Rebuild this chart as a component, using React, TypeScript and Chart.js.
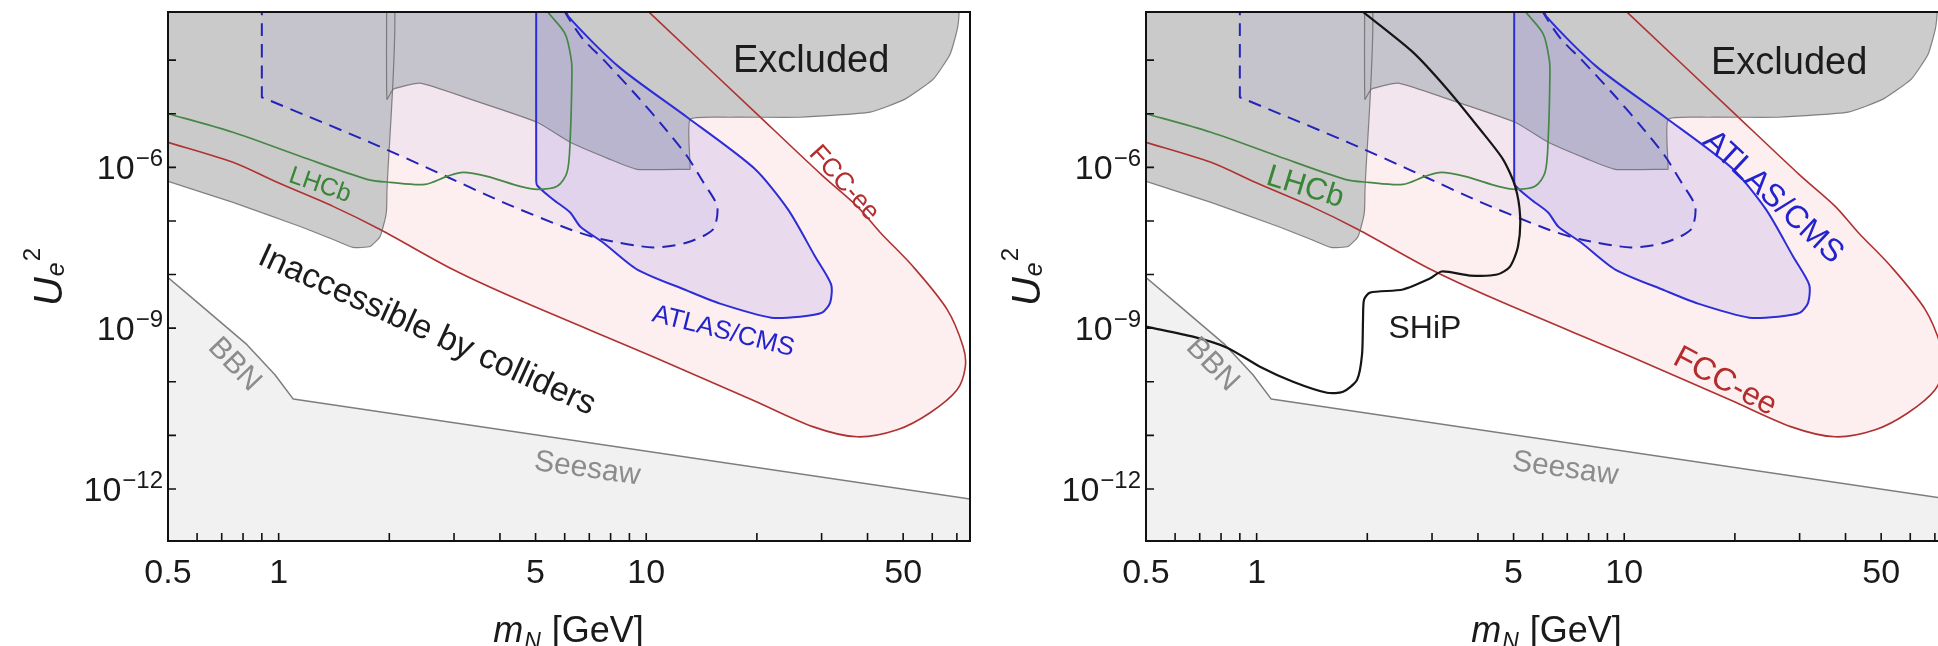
import React, { useEffect, useRef } from 'react';
import { Chart, registerables } from 'chart.js';

Chart.register(...registerables);

// ---------- axis ranges ----------
const X_MIN = 0.5;
const X_MAX = 76;
const Y_MIN = 1.07e-13;
const Y_MAX = 7.9e-4;

// ---------- tick values ----------
const xTickValues = [0.5, 1, 5, 10, 50];
const xTickLabels = ['0.5', '1', '5', '10', '50'];
const xMinorTicks = [0.6, 0.7, 0.8, 0.9, 2, 3, 4, 6, 7, 8, 9, 20, 30, 40, 60, 70];
const yTickExponents = [-12, -11, -10, -9, -8, -7, -6, -5, -4];
const yLabelExponents = [-12, -9, -6];

// ---------- curves (mass in GeV, U_e^2) ----------
// Seesaw / BBN lower region boundary
const seesawMass = [0.45, 0.5, 0.611, 0.82, 0.977, 1.096, 80, 80, 0.45, 0.45];
const seesawU2 = [1.6e-8, 8.8e-9, 2.75e-9, 4.92e-10, 1.35e-10, 4.75e-11, 6.2e-13, 1e-14, 1e-14, 1.6e-8];

// FCC-ee sensitivity region (closed)
const fccMass = [0.45, 0.45, 0.5, 0.751, 0.99, 1.406, 1.888, 2.98, 4.48, 10.44, 19.66, 28.5, 37.5, 48.2, 59.2, 70.1, 73.8, 72.8, 65.9, 53.2, 43.3, 37.5, 30.1, 19.66, 10.21, 6.9, 0.45];
const fccU2 = [1e-2, 3.6e-6, 2.93e-6, 1.24e-6, 5.25e-7, 1.87e-7, 6.93e-8, 1.24e-8, 3.41e-9, 2.93e-10, 4.41e-11, 1.44e-11, 9.4e-12, 1.27e-11, 2.64e-11, 7.08e-11, 1.9e-10, 4.51e-10, 2.22e-9, 1.41e-8, 6.1e-8, 1.87e-7, 7.08e-7, 1.11e-5, 7.7e-4, 1e-2, 1e-2];

// ATLAS/CMS solid region (closed)
const atlasMass = [5.02, 5.02, 5.05, 5.58, 6.21, 6.61, 7.63, 9.45, 12.92, 15.89, 21.9, 26.2, 30.1, 31.65, 31.85, 28.8, 24.3, 19.66, 12.92, 8.44, 6.13, 5.95, 5.02];
const atlasU2 = [1.2e-3, 7e-7, 4.6e-7, 2.52e-7, 1.44e-7, 7.9e-8, 3.96e-8, 1.24e-8, 5.02e-9, 2.87e-9, 1.57e-9, 1.64e-9, 1.95e-9, 3.0e-9, 6.5e-9, 2.17e-8, 1.64e-7, 9.58e-7, 8.6e-6, 7.4e-5, 6.6e-4, 1.2e-3, 1.2e-3];

// ATLAS/CMS displaced (dashed) region (closed; corner vertex repeated for a sharp corner)
const dispMass = [0.9, 0.9, 0.9, 1.773, 2.7, 4.08, 6.21, 7.63, 10.44, 12.92, 15.2, 15.6, 14.3, 12.92, 11.12, 9.45, 7.63, 6.73, 6.02, 5.9, 0.9];
const dispU2 = [1.2e-3, 2.03e-5, 2.03e-5, 2.93e-6, 8.07e-7, 2.22e-7, 6.93e-8, 4.51e-8, 3.2e-8, 3.96e-8, 6.93e-8, 1.87e-7, 5.25e-7, 1.61e-6, 5.83e-6, 2.12e-5, 1.04e-4, 2.47e-4, 7.7e-4, 1.2e-3, 1.2e-3];

// LHCb contour (open line)
const lhcbMass = [0.45, 0.5, 0.751, 1.144, 1.74, 2.01, 2.5, 2.87, 3.18, 3.69, 4.54, 5.05, 5.72, 6.09, 6.21, 6.28, 6.25, 6.02, 5.41, 5.08];
const lhcbU2 = [1.21e-5, 1.0e-5, 4.51e-6, 1.61e-6, 5.97e-7, 5.25e-7, 4.8e-7, 6.79e-7, 8.07e-7, 6.79e-7, 4.42e-7, 3.88e-7, 4.42e-7, 8.07e-7, 3.33e-6, 5.97e-5, 1.04e-4, 3.06e-4, 7.7e-4, 1.38e-3];

// Excluded region, left block (closed)
const exclLeftMass = [0.45, 0.5, 0.751, 1.144, 1.406, 1.594, 1.773, 1.888, 1.96, 1.97, 1.97, 0.45, 0.45];
const exclLeftU2 = [6.9e-7, 5.47e-7, 2.22e-7, 7.88e-8, 4.51e-8, 3.2e-8, 3.34e-8, 5.13e-8, 1.32e-7, 3e-7, 1e-2, 1e-2, 6.9e-7];

// Excluded region, middle/right block (closed)
const exclMidMass = [1.97, 1.97, 2.05, 2.43, 3.32, 5.05, 6.21, 7.97, 9.45, 12.92, 13.16, 13.16, 16.9, 26.2, 40.7, 50.6, 60.4, 67.1, 70.2, 71.0, 71.5, 1.97];
const exclMidU2 = [1e-2, 1.87e-5, 2.87e-5, 3.72e-5, 1.87e-5, 6.93e-6, 2.93e-6, 1.41e-6, 9.18e-7, 9.18e-7, 9.18e-7, 7.88e-6, 8.6e-6, 8.6e-6, 1.07e-5, 1.87e-5, 4.42e-5, 1.29e-4, 3.79e-4, 7.9e-4, 1e-2, 1e-2];

// SHiP contour (right panel only)
const shipMass = [0.45, 0.5, 0.671, 0.831, 1.021, 1.256, 1.554, 1.718, 1.876, 1.935, 1.947, 1.96, 2.035, 2.5, 2.96, 3.19, 3.81, 4.51, 4.89, 5.14, 5.21, 5.05, 4.68, 4.05, 3.3, 2.66, 1.947, 1.62];
const shipU2 = [1.27e-9, 1.07e-9, 6.93e-10, 4.32e-10, 1.91e-10, 1.0e-10, 6.23e-11, 6.5e-11, 1.09e-10, 3.2e-10, 1.44e-9, 3.41e-9, 4.61e-9, 5.25e-9, 8.4e-9, 1.14e-8, 9.58e-9, 1.0e-8, 1.41e-8, 3.34e-8, 1.21e-7, 4.42e-7, 1.41e-6, 5.13e-6, 2.87e-5, 1.41e-4, 7.9e-4, 2.1e-3];

// ---------- annotations ----------
type Label = { text: string; m: number; u: number; angle: number; size: number; color: string };

const BLACK = '#1c1c1c';
const GREEN = 'rgb(55,135,55)';
const BLUE = 'rgb(35,35,205)';
const RED = 'rgb(180,45,45)';
const GRAY = 'rgb(140,140,140)';

const leftLabels: Label[] = [
  { text: 'Excluded', m: 28.1, u: 9.6e-5, angle: 0, size: 38, color: BLACK },
  { text: 'Inaccessible by colliders', m: 2.53, u: 8.97e-10, angle: 24.5, size: 34, color: BLACK },
  { text: 'LHCb', m: 1.296, u: 4.61e-7, angle: 19, size: 25, color: GREEN },
  { text: 'ATLAS/CMS', m: 16.2, u: 8.6e-10, angle: 14, size: 26, color: BLUE },
  { text: 'FCC-ee', m: 34.5, u: 5.03e-7, angle: 48, size: 26, color: RED },
  { text: 'BBN', m: 0.758, u: 2.08e-10, angle: 46, size: 30, color: GRAY },
  { text: 'Seesaw', m: 6.91, u: 2.37e-12, angle: 8, size: 30, color: GRAY },
];

const rightLabels: Label[] = [
  { text: 'Excluded', m: 28.1, u: 8.8e-5, angle: 0, size: 38, color: BLACK },
  { text: 'LHCb', m: 1.354, u: 4.22e-7, angle: 17, size: 31, color: GREEN },
  { text: 'ATLAS/CMS', m: 25.4, u: 2.75e-7, angle: 43, size: 32, color: BLUE },
  { text: 'FCC-ee', m: 18.8, u: 1.0e-10, angle: 28, size: 32, color: RED },
  { text: 'SHiP', m: 2.87, u: 9.4e-10, angle: 0, size: 32, color: BLACK },
  { text: 'BBN', m: 0.758, u: 2.08e-10, angle: 46, size: 30, color: GRAY },
  { text: 'Seesaw', m: 6.91, u: 2.37e-12, angle: 8, size: 30, color: GRAY },
];

const FONT = '"Liberation Sans", Arial, Helvetica, sans-serif';

function pts(m: number[], u: number[]) {
  return m.map((x, i) => ({ x, y: u[i] }));
}

function buildDatasets(withShip: boolean) {
  const base = { pointRadius: 0, borderJoinStyle: 'round' as const };
  const grayRegion = {
    borderColor: 'rgba(105,105,105,0.8)',
    borderWidth: 1.2,
    fill: 'shape',
    backgroundColor: 'rgba(198,198,198,0.9)',
    tension: 0.15,
  };
  const ds: any[] = [];
  if (withShip) {
    ds.push({ ...base, data: pts(shipMass, shipU2), borderColor: '#151515', borderWidth: 2.2, fill: false, tension: 0.25 });
  }
  ds.push({ ...base, data: pts(lhcbMass, lhcbU2), borderColor: 'rgb(70,135,70)', borderWidth: 1.7, fill: false, tension: 0.3 });
  ds.push({ ...base, data: pts(atlasMass, atlasU2), borderColor: 'rgb(45,45,215)', borderWidth: 2, fill: 'shape', backgroundColor: 'rgba(110,100,230,0.14)', tension: 0.25 });
  ds.push({ ...base, data: pts(dispMass, dispU2), borderColor: 'rgb(35,35,185)', borderWidth: 2, borderDash: [13, 8], fill: 'shape', backgroundColor: 'rgba(110,100,230,0.07)', tension: 0.25 });
  ds.push({ ...base, data: pts(exclMidMass, exclMidU2), ...grayRegion });
  ds.push({ ...base, data: pts(exclLeftMass, exclLeftU2), ...grayRegion });
  ds.push({ ...base, data: pts(fccMass, fccU2), borderColor: 'rgb(175,50,50)', borderWidth: 1.6, fill: 'shape', backgroundColor: 'rgba(240,120,120,0.12)', tension: 0.3 });
  ds.push({ ...base, data: pts(seesawMass, seesawU2), borderColor: 'rgb(125,125,125)', borderWidth: 1.5, fill: 'shape', backgroundColor: 'rgb(241,241,241)', tension: 0 });
  return ds;
}

function decorPlugin(labels: Label[]) {
  return {
    id: 'decor',
    afterDraw(chart: any) {
      const ctx: CanvasRenderingContext2D = chart.ctx;
      const a = chart.chartArea;
      const xs = chart.scales.x;
      const ys = chart.scales.y;
      ctx.save();

      // region labels
      for (const l of labels) {
        const px = xs.getPixelForValue(l.m);
        const py = ys.getPixelForValue(l.u);
        ctx.save();
        ctx.translate(px, py);
        ctx.rotate((l.angle * Math.PI) / 180);
        ctx.font = `${l.size}px ${FONT}`;
        ctx.fillStyle = l.color;
        ctx.textAlign = 'center';
        ctx.textBaseline = 'middle';
        ctx.fillText(l.text, 0, 0);
        ctx.restore();
      }

      // frame
      ctx.strokeStyle = '#111';
      ctx.lineWidth = 2;
      ctx.strokeRect(a.left, a.top, a.right - a.left, a.bottom - a.top);

      // ticks (inward)
      ctx.lineWidth = 1.6;
      ctx.beginPath();
      for (const e of yTickExponents) {
        const py = ys.getPixelForValue(Math.pow(10, e));
        ctx.moveTo(a.left, py);
        ctx.lineTo(a.left + 8, py);
      }
      for (const v of xTickValues.concat(xMinorTicks)) {
        const px = xs.getPixelForValue(v);
        if (px <= a.left + 1 || px >= a.right - 1) continue;
        ctx.moveTo(px, a.bottom);
        ctx.lineTo(px, a.bottom - 8);
      }
      ctx.stroke();

      // y tick labels 10^-n
      ctx.fillStyle = '#1a1a1a';
      for (const e of yLabelExponents) {
        const py = ys.getPixelForValue(Math.pow(10, e));
        const sup = '\u2212' + Math.abs(e);
        ctx.font = `24px ${FONT}`;
        const sw = ctx.measureText(sup).width;
        const right = a.left - 5;
        ctx.textAlign = 'left';
        ctx.textBaseline = 'alphabetic';
        ctx.fillText(sup, right - sw, py - 1);
        ctx.font = `34px ${FONT}`;
        ctx.textAlign = 'right';
        ctx.fillText('10', right - sw - 1, py + 12);
      }

      // x tick labels
      ctx.font = `34px ${FONT}`;
      ctx.textAlign = 'center';
      ctx.textBaseline = 'alphabetic';
      xTickValues.forEach((v, i) => {
        ctx.fillText(xTickLabels[i], xs.getPixelForValue(v), a.bottom + 42);
      });

      // x axis title: m_N [GeV]
      const xParts = [
        { t: 'm', f: `italic 36px ${FONT}`, dy: 0 },
        { t: 'N', f: `italic 23px ${FONT}`, dy: 7 },
        { t: ' [GeV]', f: `36px ${FONT}`, dy: 0 },
      ];
      let total = 0;
      for (const p of xParts) { ctx.font = p.f; total += ctx.measureText(p.t).width + 1; }
      let cx = (a.left + a.right) / 2 - total / 2;
      ctx.textAlign = 'left';
      for (const p of xParts) {
        ctx.font = p.f;
        ctx.fillText(p.t, cx, a.bottom + 101 + p.dy);
        cx += ctx.measureText(p.t).width + 1;
      }

      // y axis title: U_e^2 (rotated)
      const yParts = [
        { t: 'U', f: `italic 40px ${FONT}`, dy: 0 },
        { t: 'e', f: `italic 25px ${FONT}`, dy: 2 },
        { t: '2', f: `24px ${FONT}`, dy: -22 },
      ];
      let ytotal = 0;
      for (const p of yParts) { ctx.font = p.f; ytotal += ctx.measureText(p.t).width + 1; }
      ctx.save();
      ctx.translate(a.left - 106, (a.top + a.bottom) / 2);
      ctx.rotate(-Math.PI / 2);
      let cy = -ytotal / 2;
      for (const p of yParts) {
        ctx.font = p.f;
        ctx.fillText(p.t, cy, p.dy);
        cy += ctx.measureText(p.t).width + 1;
      }
      ctx.restore();

      ctx.restore();
    },
  };
}

const CANVAS_W = 975;
const CANVAS_H = 646;

function Panel({ offset, withShip, labels }: { offset: number; withShip: boolean; labels: Label[] }) {
  const ref = useRef<HTMLCanvasElement | null>(null);
  useEffect(() => {
    if (!ref.current) return;
    const chart = new Chart(ref.current, {
      type: 'line',
      data: { datasets: buildDatasets(withShip) },
      options: {
        animation: false,
        responsive: false,
        maintainAspectRatio: false,
        devicePixelRatio: 1,
        events: [],
        layout: { padding: { left: 168, top: 12, right: 5, bottom: 105 } },
        scales: {
          x: { type: 'logarithmic', min: X_MIN, max: X_MAX, display: false, bounds: 'data' },
          y: { type: 'logarithmic', min: Y_MIN, max: Y_MAX, display: false, bounds: 'data' },
        },
        elements: { line: { capBezierPoints: false } },
        plugins: {
          legend: { display: false },
          tooltip: { enabled: false },
          filler: { drawTime: 'beforeDatasetsDraw' },
        },
      } as any,
      plugins: [decorPlugin(labels)],
    } as any);
    return () => chart.destroy();
  }, []);
  return (
    <canvas
      ref={ref}
      width={CANVAS_W}
      height={CANVAS_H}
      style={{ position: 'absolute', left: offset, top: 0, width: CANVAS_W, height: CANVAS_H }}
    />
  );
}

export default function App() {
  return (
    <div
      style={{
        position: 'fixed',
        left: 0,
        top: 0,
        width: 1938,
        height: 646,
        overflow: 'hidden',
        background: '#ffffff',
      }}
    >
      <Panel offset={0} withShip={false} labels={leftLabels} />
      <Panel offset={978} withShip={true} labels={rightLabels} />
    </div>
  );
}
